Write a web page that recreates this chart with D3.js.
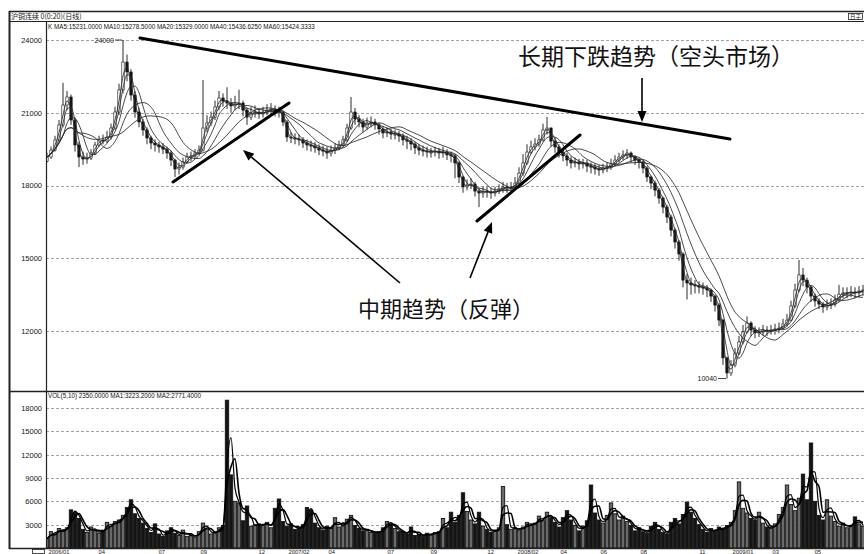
<!DOCTYPE html>
<html><head><meta charset="utf-8">
<script src="https://cdn.jsdelivr.net/npm/d3@7"></script>
<style>html,body{margin:0;padding:0;background:#fff;} svg{display:block;}</style>
</head><body><svg id="c" width="864" height="554"></svg>
<script>
// ---- data (each point ~ 4 trading days) ----
const firstOpen = 19000;
const closes = [19175,19464,19876,20495,21319,21650,20701,19670,19175,19090,
19130,19340,19670,19876,19835,20000,20370,21030,21940,23090,
22680,21730,21030,20620,20290,19960,19750,19670,19590,19500,
19340,19050,18680,18760,18970,19175,19220,19340,19460,20370,
20580,20820,21240,21610,21480,21400,21280,21360,21400,21110,
20820,20990,21030,20950,21030,21110,21150,21070,21030,20620,
20000,19960,19920,19880,19750,19670,19630,19550,19460,19420,
19340,19460,19550,19670,19880,20370,21030,20740,20620,20410,
20580,20620,20500,20330,20165,20210,20120,20120,20040,19880,
19830,19710,19550,19460,19420,19380,19380,19420,19340,19380,
19260,19220,18930,18350,17940,18020,18060,17770,17690,17770,
17730,17690,17770,17860,17940,17900,17940,18100,18510,18930,
19380,19590,19710,19880,20290,20370,19830,19590,19380,19220,
19050,18930,18970,18890,18930,18800,18760,18680,18640,18720,
18760,18890,19050,19175,19260,19340,19175,19050,18970,18720,
18350,18100,17810,17480,17110,16700,16160,15670,15175,14100,
13980,13900,13860,13810,13770,13690,13440,13070,12450,10890,
10270,10600,11090,11550,11960,12330,12040,11920,11960,12040,
12000,12040,12080,12120,12290,12450,13030,13690,14310,14100,
13810,13440,13240,13110,12990,13070,13110,13280,13520,13570,
13570,13610,13570,13650,13690];
const highs = [19350,19600,20050,20700,22230,21900,21750,20800,19800,19400,
19350,19500,19800,20050,20100,20250,20550,21250,22200,24000,
23400,22800,21900,21200,20750,20400,20050,19900,19800,19750,
19600,19450,19100,18950,19150,19350,19400,19500,19650,22350,
20900,21050,21500,21900,21800,22050,21600,21700,21950,21500,
21200,21250,21300,21200,21250,21350,21400,21300,21250,21100,
20700,20200,20150,20100,20000,19900,19850,19800,19700,19650,
19600,19650,19750,19850,20050,20550,21650,21200,20900,20750,
20800,20850,20750,20600,20450,20400,20350,20300,20250,20150,
20050,19950,19800,19700,19650,19600,19550,19600,19550,19600,
19500,19400,19300,19000,18400,18250,18300,18150,17900,17950,
17950,17900,17950,18050,18150,18100,18150,18350,18750,19300,
19700,19850,19950,20100,20550,20830,20400,19950,19700,19500,
19350,19200,19150,19100,19100,19050,18950,18900,18850,18900,
18950,19100,19250,19350,19450,19500,19400,19250,19150,19050,
18800,18400,18200,17900,17550,17200,16800,16250,15750,15250,
14350,14200,14100,14050,14000,13900,13750,13500,13150,12500,
10950,10800,11300,11800,12250,12600,12400,12200,12150,12250,
12200,12250,12300,12350,12500,12700,13250,13950,14930,14600,
14200,13900,13550,13350,13200,13300,13350,13500,13900,13800,
13800,13850,13800,13850,13900];
const lows = [18950,19100,19400,19800,20400,21100,20500,19400,18760,18850,
18900,19050,19250,19600,19700,19750,19900,20300,20900,21800,
22300,21500,20800,20400,20050,19700,19500,19400,19350,19300,
19100,18800,18350,18450,18650,18900,19000,19100,19250,19400,
20200,20450,20700,21100,21250,21150,21000,21100,21150,20850,
20500,20700,20800,20750,20800,20900,20950,20850,20800,20450,
19800,19750,19700,19650,19550,19450,19400,19350,19250,19200,
19100,19200,19300,19450,19600,19800,20300,20500,20400,20200,
20300,20400,20300,20100,19950,20000,19900,19900,19800,19650,
19500,19450,19300,19250,19200,19150,19150,19200,19100,19150,
19050,18950,18300,18100,17700,17800,17850,17550,17110,17500,
17500,17450,17550,17650,17700,17700,17750,17850,18050,18400,
18850,19300,19450,19600,19800,20100,19600,19350,19150,19000,
18800,18700,18750,18650,18700,18550,18500,18450,18400,18500,
18550,18650,18800,18950,19050,19100,18950,18850,18700,18500,
18150,17850,17550,17250,16850,16450,15900,15400,14900,13800,
13300,13500,13550,13550,13500,13400,13200,12800,12200,10600,
10040,10150,10500,11000,11450,11900,11800,11700,11750,11800,
11800,11850,11850,11900,12050,12200,12400,12950,13600,13850,
13550,13200,13000,12900,12750,12850,12900,13000,13200,13350,
13350,13400,13350,13400,13450];
const volumes = [1200,2100,1800,2500,2200,2600,4900,4600,3800,2400,
2000,2700,2200,1900,2300,3300,2800,3400,3600,4200,
5200,6200,4400,3800,3200,2500,2000,3100,1800,1500,
2200,2600,1900,1600,2300,1500,1700,1400,2100,3200,
2400,1800,2000,2600,2900,19000,9400,6000,5800,3500,
5400,2800,3000,3100,2900,3300,2600,5100,6300,3400,
2800,3100,2400,2600,3000,5200,4900,3200,2600,2300,
2800,2500,3900,2700,3000,3700,4200,2900,2500,2200,
2400,2000,1900,2100,2600,3400,3100,2500,2100,2000,
1800,2700,1600,1800,1500,1900,1700,2000,2100,3800,
2600,4600,3300,4200,7100,4700,3600,3100,4600,2800,
2400,2000,2300,2600,7900,3000,2400,2600,2300,2700,
3300,2900,3200,4100,3500,4600,3800,3300,2700,3900,
4800,3600,2900,2200,2800,3500,8100,4500,3600,3200,
4200,5800,4400,3600,4100,3400,2900,2200,2600,2100,
1900,2800,3300,2400,2000,1800,3300,3800,3100,4300,
5900,4600,3800,3000,2400,2000,2500,2100,2700,2400,
2900,3300,4800,8500,5100,4500,3800,3600,4600,3200,
2700,2500,3100,4300,5200,8100,5600,4800,6400,9500,
6200,13500,6000,4200,3600,6200,4100,3400,2800,3200,
2600,2900,4000,3100,2800];
const maPeriods = [2, 3, 5, 9, 14];      // MA5, MA10, MA20, MA40, MA60 in points
const volMaPeriods = [2, 3];             // MA1, MA2
const priceTicks = [12000, 15000, 18000, 21000, 24000];
const volTicks = [3000, 6000, 9000, 12000, 15000, 18000];
const xTickLabels = ["2006/01","04","07","09","12","2007/02","04","07","09","12","2008/02","04","06","08","11","2009/01","03","05"];
const xTickIndex = [0.25,12.75,27.75,38.25,52.75,60.25,70.25,85,95.75,110,117.5,128.25,138.25,148.25,163,171.25,181.25,191.75];
const titleText = "沪铜连续 0(0:20)(日线)";
const maHeader = "K  MA5:15231.0000  MA10:15278.5000  MA20:15329.0000  MA40:15436.6250  MA60:15424.3333";
const volHeader = "VOL(5,10) 2350.0000  MA1:3223.2000  MA2:2771.4000";
const maxMark = {i: 19, v: 24000, label: "24000"};
const minMark = {i: 170, v: 10040, label: "10040"};
// annotations in data coordinates (index, price)
const trendLines = [
  {from: [23.25, 24080], to: [170.75, 19918]},
  {from: [31.5, 18144], to: [60.5, 21402]},
  {from: [107.5, 16536], to: [133.25, 20082]}
];
const arrows = [
  {from: [148.75, 22433], to: [148.75, 20620]},
  {from: [88.25, 13979], to: [49, 19464]},
  {from: [105.75, 14185], to: [111.25, 16500]}
];
const notes = [
  {at: [117.75, 23381], text: "长期下跌趋势（空头市场）", size: 23},
  {at: [77.75, 12990], text: "中期趋势（反弹）", size: 22}
];

// ---- drawing ----
const svg = d3.select("#c");
const ink = "#141414";
const L = 46, R = 864, mainTop = 22, mainBot = 391, volBot = 548;
const x = d3.scaleLinear().domain([0, closes.length - 1]).range([47, 863]);
const yP = d3.scaleLinear().domain([12000, 24000]).range([331, 40]);
const yV = d3.scaleLinear().domain([0, 18000]).range([548, 408]);

const defs = svg.append("defs");
defs.append("clipPath").attr("id","cm").append("rect").attr("x",L+1).attr("y",mainTop+1).attr("width",R-L).attr("height",mainBot-mainTop-1);
defs.append("clipPath").attr("id","cv").append("rect").attr("x",L+1).attr("y",mainBot+1).attr("width",R-L).attr("height",volBot-mainBot-1);

svg.append("rect").attr("width",864).attr("height",554).attr("fill","#fff");

const opens = closes.map((c,i) => i === 0 ? firstOpen : closes[i-1]);
const bars = closes.map((c,i) => ({i, o: opens[i], c, h: Math.max(highs[i], opens[i], c), l: Math.min(lows[i], opens[i], c), v: volumes[i]}));

// gridlines
const grid = svg.append("g").attr("stroke","#8a8a8a").attr("stroke-width",0.8).attr("stroke-dasharray","3,2");
grid.selectAll(".gp").data(priceTicks).join("line").attr("x1",L).attr("x2",R).attr("y1",d=>Math.round(yP(d))+0.5).attr("y2",d=>Math.round(yP(d))+0.5);
grid.selectAll(".gv").data(volTicks).join("line").attr("x1",L).attr("x2",R).attr("y1",d=>Math.round(yV(d))+0.5).attr("y2",d=>Math.round(yV(d))+0.5);

// axes (labels only, via d3 axis)
const fontNum = "'Liberation Sans', Arial, sans-serif";
const axP = svg.append("g").attr("transform",`translate(${L},0)`).call(d3.axisLeft(yP).tickValues(priceTicks).tickSize(0).tickPadding(4).tickFormat(d3.format("d")));
const axV = svg.append("g").attr("transform",`translate(${L},0)`).call(d3.axisLeft(yV).tickValues(volTicks).tickSize(0).tickPadding(4).tickFormat(d3.format("d")));
[axP, axV].forEach(a => { a.select(".domain").remove(); a.selectAll("text").attr("font-family",fontNum).attr("font-size",7.5).attr("fill",ink); });

const axX = svg.append("g").attr("transform",`translate(0,0)`)
  .call(d3.axisBottom(x).tickValues(xTickIndex).tickSize(0).tickPadding(0).tickFormat((d,k)=>xTickLabels[k]));
axX.select(".domain").remove();
axX.selectAll("text").attr("font-family",fontNum).attr("font-size",5.8).attr("fill",ink).attr("text-anchor","start")
  .attr("y",553.6).attr("dy",null);

// price panel
const gm = svg.append("g").attr("clip-path","url(#cm)");
const bw = 2.4;
gm.append("g").selectAll("line").data(bars).join("line")
  .attr("x1",d=>x(d.i)).attr("x2",d=>x(d.i))
  .attr("y1",d=>yP(d.h)).attr("y2",d=>yP(d.l)).attr("stroke",ink).attr("stroke-width",0.9);
gm.append("g").selectAll("rect").data(bars).join("rect")
  .attr("x",d=>x(d.i)-bw/2).attr("width",bw)
  .attr("y",d=>yP(Math.max(d.o,d.c))).attr("height",d=>Math.max(1,Math.abs(yP(d.o)-yP(d.c))))
  .attr("fill",d=>d.c>=d.o?"#fff":ink).attr("stroke",ink).attr("stroke-width",0.6);

function movingAvg(arr, p) {
  return arr.map((_,i) => { const s = Math.max(0, i-p+1); const w = arr.slice(s, i+1); return d3.mean(w); });
}
const lineP = d3.line().x((d,i)=>x(i)).y(d=>yP(d)).curve(d3.curveMonotoneX);
maPeriods.forEach(p => {
  gm.append("path").attr("d", lineP(movingAvg(closes,p))).attr("fill","none").attr("stroke","#2a2a2a").attr("stroke-width",0.85);
});

// max / min markers
const fmx = x(maxMark.i), fmy = yP(maxMark.v);
svg.append("line").attr("x1",fmx-8).attr("x2",fmx-1).attr("y1",fmy).attr("y2",fmy).attr("stroke",ink).attr("stroke-width",0.8);
svg.append("text").attr("x",fmx-9).attr("y",fmy+2.5).attr("text-anchor","end").attr("font-family",fontNum).attr("font-size",7).attr("fill",ink).text(maxMark.label);
const fnx = x(minMark.i), fny = yP(minMark.v);
svg.append("line").attr("x1",fnx-9).attr("x2",fnx-1).attr("y1",fny).attr("y2",fny).attr("stroke",ink).attr("stroke-width",0.8);
svg.append("text").attr("x",fnx-10).attr("y",fny+2.5).attr("text-anchor","end").attr("font-family",fontNum).attr("font-size",7).attr("fill",ink).text(minMark.label);

// volume panel
const gv = svg.append("g").attr("clip-path","url(#cv)");
const vbw = 3.4;
gv.append("g").selectAll("rect").data(bars).join("rect")
  .attr("x",d=>x(d.i)-vbw/2).attr("width",vbw)
  .attr("y",d=>yV(d.v)).attr("height",d=>yV(0)-yV(d.v))
  .attr("fill",d=>d.c>=d.o?"#6a6a6a":ink).attr("stroke",ink).attr("stroke-width",0.9);
const lineV = d3.line().x((d,i)=>x(i)).y(d=>yV(d)).curve(d3.curveMonotoneX);
volMaPeriods.forEach((p,k) => {
  gv.append("path").attr("d", lineV(movingAvg(volumes,p))).attr("fill","none").attr("stroke","#000").attr("stroke-width",k===0?1.2:1.6);
});

// annotations
const ann = svg.append("g");
trendLines.forEach(t => {
  ann.append("line").attr("x1",x(t.from[0])).attr("y1",yP(t.from[1])).attr("x2",x(t.to[0])).attr("y2",yP(t.to[1]))
    .attr("stroke","#000").attr("stroke-width",3).attr("stroke-linecap","round");
});
arrows.forEach(a => {
  const x1=x(a.from[0]), y1=yP(a.from[1]), x2=x(a.to[0]), y2=yP(a.to[1]);
  const ang = Math.atan2(y2-y1, x2-x1), hl = 11, hw = 4.5;
  const bx = x2 - hl*Math.cos(ang), by = y2 - hl*Math.sin(ang);
  ann.append("line").attr("x1",x1).attr("y1",y1).attr("x2",bx).attr("y2",by).attr("stroke","#000").attr("stroke-width",1.6);
  const p1 = [bx + hw*Math.sin(ang), by - hw*Math.cos(ang)], p2 = [bx - hw*Math.sin(ang), by + hw*Math.cos(ang)];
  ann.append("path").attr("d",`M${x2},${y2}L${p1[0]},${p1[1]}L${p2[0]},${p2[1]}Z`).attr("fill","#000");
});
notes.forEach(n => {
  ann.append("text").attr("x",x(n.at[0])).attr("y",yP(n.at[1])).attr("dominant-baseline","central")
    .attr("font-family","'Noto Sans CJK SC', sans-serif").attr("font-size",n.size).attr("fill","#111").text(n.text);
});

// frame
const fr = svg.append("g").attr("stroke","#222").attr("fill","none");
fr.append("line").attr("x1",9).attr("x2",R).attr("y1",11.5).attr("y2",11.5).attr("stroke-width",1.5);
fr.append("line").attr("x1",9).attr("x2",R).attr("y1",21.5).attr("y2",21.5).attr("stroke-width",1);
fr.append("line").attr("x1",9.5).attr("x2",9.5).attr("y1",11).attr("y2",volBot+1).attr("stroke-width",2);
fr.append("line").attr("x1",L+0.5).attr("x2",L+0.5).attr("y1",21).attr("y2",volBot+1).attr("stroke-width",1.2);
fr.append("line").attr("x1",9).attr("x2",R).attr("y1",mainBot+0.5).attr("y2",mainBot+0.5).attr("stroke-width",1.5);
fr.append("line").attr("x1",9).attr("x2",R).attr("y1",volBot+0.5).attr("y2",volBot+0.5).attr("stroke-width",1.5);
fr.append("rect").attr("x",848.5).attr("y",13.5).attr("width",14).attr("height",6).attr("stroke-width",0.8);
svg.append("text").attr("x",855.5).attr("y",18.6).attr("text-anchor","middle").attr("font-family","'Noto Sans CJK SC', sans-serif").attr("font-size",5.5).attr("fill",ink).text("日子");
fr.append("rect").attr("x",32.5).attr("y",549.5).attr("width",12).attr("height",4).attr("stroke-width",0.8);

// header texts
svg.append("text").attr("x",11).attr("y",19).attr("font-family","'Noto Sans CJK SC', sans-serif").attr("font-size",7).attr("fill",ink).text(titleText);
svg.append("text").attr("x",48).attr("y",29).attr("font-family",fontNum).attr("font-size",6.3).attr("fill",ink).text(maHeader);
svg.append("text").attr("x",48).attr("y",398).attr("font-family",fontNum).attr("font-size",6.3).attr("fill",ink).text(volHeader);
</script></body></html>
